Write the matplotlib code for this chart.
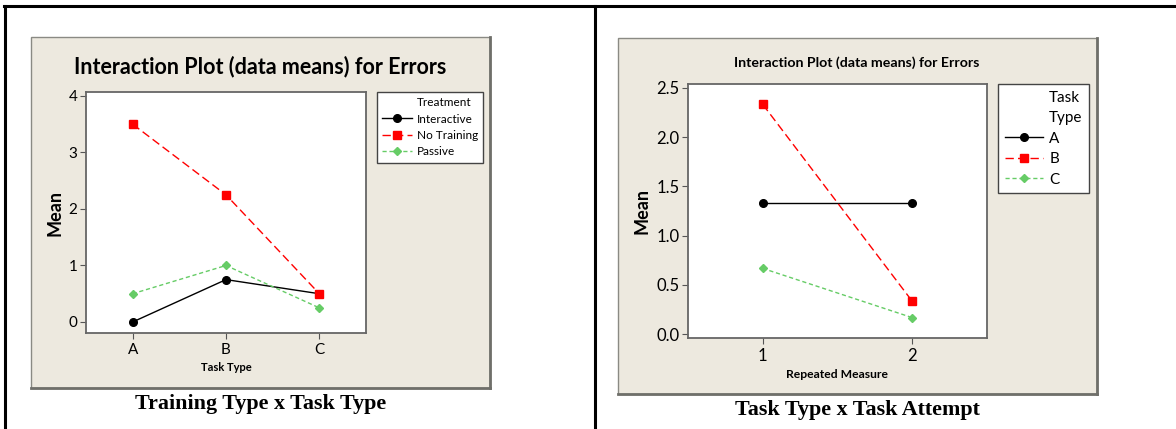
import matplotlib.pyplot as plt
from matplotlib.lines import Line2D
from matplotlib.patches import Rectangle

# left chart: error means by task type for each treatment
task_types = ['A', 'B', 'C']
interactive = [0.0, 0.75, 0.5]
no_training = [3.5, 2.25, 0.5]
passive = [0.5, 1.0, 0.25]

# right chart: error means by attempt for each task type
attempts = ['1', '2']
type_a = [1.333, 1.333]
type_b = [2.333, 0.333]
type_c = [0.667, 0.167]

W, H = 1176, 429
TAN = '#ede9df'
SANS = ['Lato', 'DejaVu Sans']
SERIF = ['Liberation Serif', 'DejaVu Serif']

styles = [
    dict(color='black', ls='-', marker='o', ms=5.5, lw=1.0),
    dict(color='#ff0000', ls=(0, (6, 3)), marker='s', ms=5.5, lw=1.0),
    dict(color='#66cc66', ls=(0, (3, 2)), marker='D', ms=4.5, lw=1.0),
]


def px(x0, y0, x1, y1):
    return [x0 / W, 1 - y1 / H, (x1 - x0) / W, (y1 - y0) / H]


fig = plt.figure(figsize=(W / 100, H / 100), dpi=100)

# table rules around the two cells
fig.add_artist(Line2D([4 / W, 1], [1 - 5.5 / H] * 2, color='black', lw=2.2))
fig.add_artist(Line2D([5 / W] * 2, [0, 1 - 5.5 / H], color='black', lw=2.2))
fig.add_artist(Line2D([595 / W] * 2, [0, 1 - 5.5 / H], color='black', lw=2.2))
fig.text(108 / W, 1 + 9 / H, ')', fontsize=14, family=SERIF, ha='left', va='center')


def panel(box, ax_rect, title, title_size, xcats, series, labels, ylim,
          yticks, yfmt, xlabel, xlabel_size, tick_size, leg_corner, leg_title,
          leg_size, leg_spacing, caption, cap_y):
    # tan background with a darker shadow edge on right/bottom
    x0, y0, x1, y1 = box
    fig.add_artist(Rectangle((x0 / W, 1 - y1 / H), (x1 - x0) / W, (y1 - y0) / H,
                             transform=fig.transFigure, facecolor=TAN,
                             edgecolor='#8a8a84', lw=1.0, zorder=-10))
    fig.add_artist(Line2D([x0 / W, x1 / W], [1 - y1 / H] * 2, color='#6f6f6a', lw=2.0, zorder=-9))
    fig.add_artist(Line2D([x1 / W] * 2, [1 - y0 / H, 1 - y1 / H], color='#6f6f6a', lw=2.0, zorder=-9))

    ax = fig.add_axes(px(*ax_rect))
    xs = range(1, len(xcats) + 1)
    for vals, st in zip(series, styles):
        ax.plot(xs, vals, **st, clip_on=False)
    ax.set_xlim(0.5, len(xcats) + 0.5)
    ax.set_ylim(*ylim)
    ax.set_xticks(list(xs))
    ax.set_xticklabels(xcats)
    ax.set_yticks(yticks)
    ax.set_yticklabels([yfmt.format(v) for v in yticks])
    for lab in ax.get_xticklabels() + ax.get_yticklabels():
        lab.set_family(SANS)
        lab.set_fontsize(tick_size)
    ax.tick_params(direction='out', length=4, width=0.8, color='#555555', pad=2)
    ax.tick_params(axis='x', pad=3)
    for sp in ax.spines.values():
        sp.set_color('#666666')
        sp.set_linewidth(1.3)
    ax.set_xlabel(xlabel, fontsize=xlabel_size, fontweight='bold', family=SANS, labelpad=4)
    ax.set_ylabel('Mean', fontsize=13, fontweight='bold', family=SANS, labelpad=4)

    fig.text(title[1] / W, 1 - title[2] / H, title[0], fontsize=title_size,
             fontweight='bold', family=SANS, ha='center', va='center')

    # legend: group title rows carry blank handles so they line up with labels
    blank = [Line2D([], [], ls='none') for _ in leg_title]
    handles = blank + [Line2D([], [], **st) for st in styles[:len(series)]]
    lx0, ly0 = leg_corner
    leg = fig.legend(handles, list(leg_title) + labels, loc='upper left',
                     bbox_to_anchor=(lx0 / W, 1 - ly0 / H), borderaxespad=0,
                     frameon=True, fancybox=False, edgecolor='#444444', framealpha=1,
                     prop={'family': SANS, 'size': leg_size},
                     handlelength=2.5, handletextpad=0.4, labelspacing=leg_spacing,
                     borderpad=0.45)
    leg.get_frame().set_linewidth(1.0)
    leg.get_frame().set_facecolor('white')

    fig.text((x0 + x1) / 2 / W, 1 - cap_y / H, caption, fontsize=15.8,
             fontweight='bold', family=SERIF, ha='center', va='center')
    return ax


panel((31, 37, 490, 388), (86, 92, 366, 333),
      ('Interaction Plot (data means) for Errors', 260, 67), 15.5,
      task_types, [interactive, no_training, passive],
      ['Interactive', 'No Training', 'Passive'],
      (-0.195, 4.07), [0, 1, 2, 3, 4], '{:.0f}', 'Task Type', 8, 11,
      (377, 92), ['Treatment'], 8.5, 0.45,
      'Training Type x Task Type', 404)

panel((618, 38, 1097, 394), (688, 84, 987, 338),
      ('Interaction Plot (data means) for Errors', 857, 63), 10.2,
      attempts, [type_a, type_b, type_c],
      ['A', 'B', 'C'],
      (-0.04, 2.54), [0.0, 0.5, 1.0, 1.5, 2.0, 2.5], '{:.1f}', 'Repeated Measure', 8.7, 12,
      (998, 84), ['Task', 'Type'], 11, 0.42,
      'Task Type x Task Attempt', 410)

fig.savefig('out.png', dpi=100)
